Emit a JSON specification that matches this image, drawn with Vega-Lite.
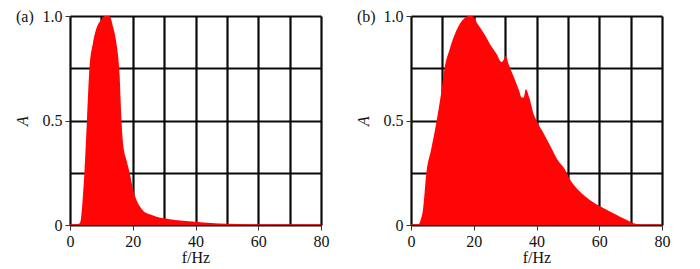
{
  "$schema": "https://vega.github.io/schema/vega-lite/v6.json",
  "padding": {"left": 14, "top": 8, "right": 5, "bottom": 0},
  "autosize": {"type": "pad"},
  "background": "white",
  "spacing": 26,
  "config": {
    "view": {"stroke": null},
    "font": "'Liberation Serif', 'Times New Roman', Times, serif",
    "axis": {
      "labelFont": "'Liberation Serif', 'Times New Roman', Times, serif",
      "labelFontSize": 16,
      "labelColor": "#111",
      "titleFont": "'Liberation Serif', 'Times New Roman', Times, serif",
      "titleFontSize": 16,
      "titleFontWeight": "normal",
      "titleColor": "#111",
      "grid": true,
      "gridColor": "#0a0a0a",
      "gridWidth": 2.2,
      "gridOpacity": 1,
      "domain": false,
      "tickColor": "#333",
      "tickSize": 5,
      "tickWidth": 1,
      "labelPadding": 3,
      "zindex": 1
    },
    "title": {"font": "'Liberation Serif', 'Times New Roman', Times, serif", "fontSize": 16, "fontWeight": "normal", "color": "#111"}
  },
  "datasets": {
    "a": [
      {"f": 0, "A": 0.004}, {"f": 2, "A": 0.004}, {"f": 3, "A": 0.007}, {"f": 3.5, "A": 0.03},
      {"f": 4.1, "A": 0.135}, {"f": 4.6, "A": 0.25}, {"f": 5.4, "A": 0.5}, {"f": 6.2, "A": 0.75},
      {"f": 7.3, "A": 0.87}, {"f": 8.4, "A": 0.94}, {"f": 10.1, "A": 0.985}, {"f": 11, "A": 1.0},
      {"f": 12.6, "A": 1.0}, {"f": 13.7, "A": 0.95}, {"f": 14.8, "A": 0.87}, {"f": 15.8, "A": 0.72},
      {"f": 16.4, "A": 0.5}, {"f": 16.9, "A": 0.39}, {"f": 18, "A": 0.31}, {"f": 19, "A": 0.25},
      {"f": 20.1, "A": 0.17}, {"f": 21.2, "A": 0.12}, {"f": 22.3, "A": 0.088}, {"f": 23.3, "A": 0.068},
      {"f": 25.4, "A": 0.051}, {"f": 27.6, "A": 0.04}, {"f": 30, "A": 0.032}, {"f": 33.6, "A": 0.024},
      {"f": 40, "A": 0.016}, {"f": 45, "A": 0.01}, {"f": 50, "A": 0.006}, {"f": 57, "A": 0.004},
      {"f": 80, "A": 0.004}
    ],
    "b": [
      {"f": 0, "A": 0.004}, {"f": 2.5, "A": 0.004}, {"f": 3, "A": 0.02}, {"f": 3.8, "A": 0.07},
      {"f": 4.9, "A": 0.25}, {"f": 6.4, "A": 0.36}, {"f": 8.2, "A": 0.5}, {"f": 9.6, "A": 0.63},
      {"f": 10.7, "A": 0.75}, {"f": 12.3, "A": 0.84}, {"f": 13.9, "A": 0.91}, {"f": 15.5, "A": 0.96},
      {"f": 17.1, "A": 0.99}, {"f": 18.5, "A": 1.0}, {"f": 19.5, "A": 1.0}, {"f": 21.3, "A": 0.96},
      {"f": 23.5, "A": 0.91}, {"f": 25.4, "A": 0.86}, {"f": 27.2, "A": 0.82}, {"f": 28.8, "A": 0.78},
      {"f": 29.5, "A": 0.79}, {"f": 30.2, "A": 0.81}, {"f": 31.1, "A": 0.77}, {"f": 32.7, "A": 0.71},
      {"f": 34.3, "A": 0.65}, {"f": 35.3, "A": 0.61}, {"f": 35.9, "A": 0.61}, {"f": 36.6, "A": 0.65},
      {"f": 37.7, "A": 0.61}, {"f": 39.1, "A": 0.53}, {"f": 40, "A": 0.5}, {"f": 42.6, "A": 0.43},
      {"f": 44.7, "A": 0.37}, {"f": 46.8, "A": 0.31}, {"f": 48.9, "A": 0.27}, {"f": 50.6, "A": 0.22},
      {"f": 53.8, "A": 0.16}, {"f": 57, "A": 0.12}, {"f": 60.4, "A": 0.088}, {"f": 63.4, "A": 0.064},
      {"f": 66.6, "A": 0.04}, {"f": 69.3, "A": 0.02}, {"f": 70.9, "A": 0.008}, {"f": 73, "A": 0.004},
      {"f": 80, "A": 0.004}
    ]
  },
  "hconcat": [
    {
      "width": 251,
      "height": 209,
      "title": {"text": "(a)", "anchor": "start", "frame": "group", "orient": "top", "dx": -54, "dy": 17, "offset": 0},
      "data": {"name": "a"},
      "mark": {"type": "area", "color": "#ff0505", "interpolate": "monotone", "clip": true},
      "encoding": {
        "x": {"field": "f", "type": "quantitative", "scale": {"domain": [0, 80], "nice": false, "zero": false},
          "axis": {"values": [0, 10, 20, 30, 40, 50, 60, 70, 80], "labelExpr": "datum.value % 20 === 0 ? datum.label : ''",
            "tickOpacity": {"condition": {"test": "datum.value % 20 === 0", "value": 1}, "value": 0},
            "title": "f/Hz", "titlePadding": 0, "labelFlush": false}},
        "y": {"field": "A", "type": "quantitative", "scale": {"domain": [0, 1], "nice": false},
          "axis": {"values": [0, 0.25, 0.5, 0.75, 1], "labelExpr": "datum.value === 0 ? '0' : (datum.value % 0.5 === 0 ? format(datum.value, '.1f') : '')",
            "tickOpacity": {"condition": {"test": "datum.value % 0.5 === 0", "value": 1}, "value": 0},
            "title": "A", "titleFontStyle": "italic", "titlePadding": 12, "labelFlush": false}}
      }
    },
    {
      "width": 251,
      "height": 209,
      "title": {"text": "(b)", "anchor": "start", "frame": "group", "orient": "top", "dx": -54, "dy": 17, "offset": 0},
      "data": {"name": "b"},
      "mark": {"type": "area", "color": "#ff0505", "interpolate": "monotone", "clip": true},
      "encoding": {
        "x": {"field": "f", "type": "quantitative", "scale": {"domain": [0, 80], "nice": false, "zero": false},
          "axis": {"values": [0, 10, 20, 30, 40, 50, 60, 70, 80], "labelExpr": "datum.value % 20 === 0 ? datum.label : ''",
            "tickOpacity": {"condition": {"test": "datum.value % 20 === 0", "value": 1}, "value": 0},
            "title": "f/Hz", "titlePadding": 0, "labelFlush": false}},
        "y": {"field": "A", "type": "quantitative", "scale": {"domain": [0, 1], "nice": false},
          "axis": {"values": [0, 0.25, 0.5, 0.75, 1], "labelExpr": "datum.value === 0 ? '0' : (datum.value % 0.5 === 0 ? format(datum.value, '.1f') : '')",
            "tickOpacity": {"condition": {"test": "datum.value % 0.5 === 0", "value": 1}, "value": 0},
            "title": "A", "titleFontStyle": "italic", "titlePadding": 12, "labelFlush": false}}
      }
    }
  ]
}
